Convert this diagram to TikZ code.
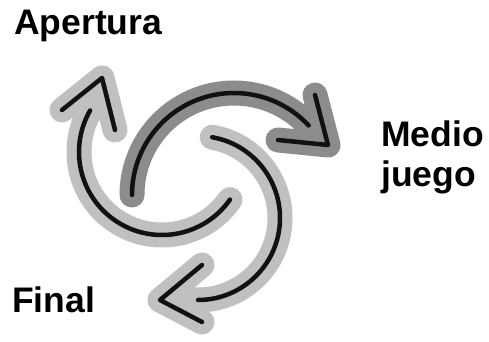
\documentclass[tikz,border=0pt]{standalone}
\usepackage{fontspec}
\setmainfont{Liberation Sans}
\definecolor{cycDark}{RGB}{140,140,140}
\definecolor{cycLight}{RGB}{192,192,192}
\definecolor{cycInk}{RGB}{17,17,17}
\tikzset{
  band/.style={line width=25pt,line cap=round,line join=round},
  ink/.style={draw=cycInk,line width=4.5pt,line cap=round,line join=round},
  phase/.style={font=\fontsize{35.5}{40}\selectfont\bfseries,text=black,inner sep=0pt}
}

\begin{document}
\begin{tikzpicture}[x=1pt,y=1pt]
  \useasboundingbox (0,0) rectangle (489,342);
  \fill[white] (0,0) rectangle (489,342);
  % three arrows, clockwise: centre, radius, arc angles, barb / tip / barb
  \foreach \g/\cx/\cy/\r/\a/\b/\ux/\uy/\tx/\ty/\vx/\vy in {
      cycDark/234/147/102/180/43/81/100/94/50/44/55,
      cycLight/198/124/82/80/-90/4/-47/-38/-82/4/-104,
      cycLight/162/190/83/-35/-210/-100/42/-60/74/-47/22} {
    \begin{scope}[shift={(\cx,\cy)}]
      \draw[band,draw=\g] (\a:\r) arc[start angle=\a,end angle=\b,radius=\r] -- (\tx,\ty)
        (\ux,\uy) -- (\tx,\ty) -- (\vx,\vy);
      \draw[ink] (\a:\r) arc[start angle=\a,end angle=\b,radius=\r];
      \draw[ink] (\ux,\uy) -- (\tx,\ty) -- (\vx,\vy);
    \end{scope}
  }
  \node[phase,anchor=base west] (apertura) at (14,307) {Apertura};
  \node[phase,anchor=base west,align=left] (medio) at (381,155) {Medio\\juego};
  \node[phase,anchor=base west] (final) at (12,29) {Final};
\end{tikzpicture}
\end{document}
